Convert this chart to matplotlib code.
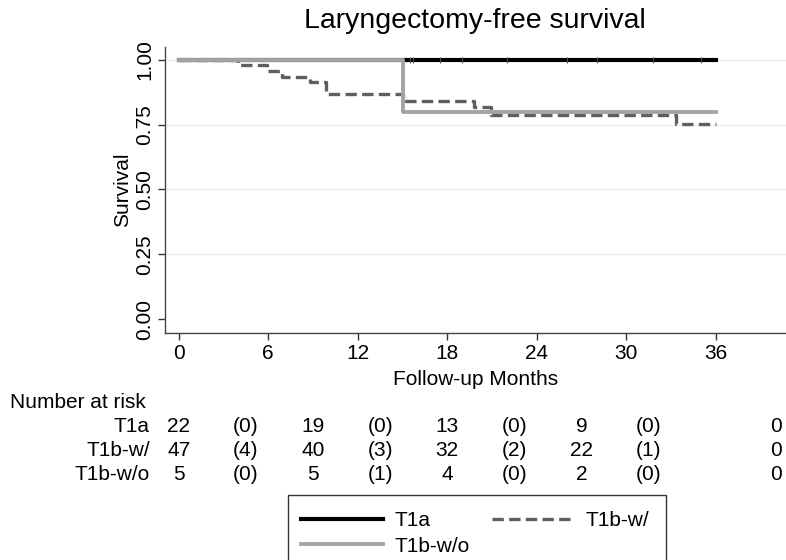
import matplotlib
matplotlib.use("Agg")
from matplotlib import pyplot as plt
from matplotlib.patches import Rectangle
import matplotlib.transforms as mtransforms

plt.rcParams['font.family'] = ['Liberation Sans', 'DejaVu Sans']

# Kaplan-Meier steps
t1a_times = [0, 36]
t1a_surv = [1.0, 1.0]
t1a_censor = [15.5, 15.7, 17.5, 19.0, 22.0, 26.0, 28.0, 31.8, 35.0]

t1bw_times = [0, 4.0, 5.9, 6.9, 8.8, 9.9, 15.0, 19.8, 20.9, 33.3, 36]
t1bw_surv = [1.0, 0.979, 0.957, 0.936, 0.915, 0.869, 0.841, 0.820, 0.788, 0.752, 0.752]

t1bwo_times = [0, 15.0, 36]
t1bwo_surv = [1.0, 0.80, 0.80]

groups = ['T1a', 'T1b-w/', 'T1b-w/o']
at_risk = [
    ['22', '(0)', '19', '(0)', '13', '(0)', '9', '(0)', '0'],
    ['47', '(4)', '40', '(3)', '32', '(2)', '22', '(1)', '0'],
    ['5', '(0)', '5', '(1)', '4', '(0)', '2', '(0)', '0'],
]
table_x = [0, 4.5, 9, 13.5, 18, 22.5, 27, 31.5, 40]

fig = plt.figure(figsize=(7.86, 5.6), dpi=100)
ax = fig.add_axes([165 / 786, 1 - 333 / 560, 1 - 165 / 786, (333 - 47) / 560])

for y in [0.25, 0.5, 0.75, 1.0]:
    ax.axhline(y, color='#e8f0f2', lw=1, zorder=0)

l1, = ax.step(t1a_times, t1a_surv, where='post', color='black', lw=3, label='T1a')
ax.plot(t1a_censor, [1.0] * len(t1a_censor), ls='none', marker='|', ms=5, mew=0.8, color='#555555')
l2, = ax.step(t1bw_times, t1bw_surv, where='post', color='#5f5f5f', lw=2.4,
              dashes=(3.4, 1.6), label='T1b-w/')
l3, = ax.step(t1bwo_times, t1bwo_surv, where='post', color='#a3a3a3', lw=2.8, label='T1b-w/o')

ax.set_xlim(-0.92, 40.7)
ax.set_ylim(-0.054, 1.05)
ax.set_xticks(range(0, 37, 6))
ax.set_yticks([0, 0.25, 0.5, 0.75, 1.0])
ax.set_yticklabels(['0.00', '0.25', '0.50', '0.75', '1.00'], rotation=90, va='center')
ax.tick_params(labelsize=15, length=5, width=1, color='#333333', pad=3)
for s in ['top', 'right']:
    ax.spines[s].set_visible(False)
for s in ['left', 'bottom']:
    ax.spines[s].set_color('#444444')
    ax.spines[s].set_linewidth(1)

ax.set_xlabel('Follow-up Months', fontsize=15, labelpad=5)
ax.set_ylabel('Survival', fontsize=15, labelpad=2)
fig.text(475 / 786, 1 - 21 / 560, 'Laryngectomy-free survival', fontsize=20.5,
         ha='center', va='center')

# number at risk table
trans = mtransforms.blended_transform_factory(ax.transData, fig.transFigure)
fig.text(10 / 786, 1 - 403 / 560, 'Number at risk', fontsize=15, ha='left', va='center')
for i, g in enumerate(groups):
    yy = 1 - (427 + 24 * i) / 560
    fig.text(150 / 786, yy, g, fontsize=15, ha='right', va='center')
    for x, v in zip(table_x, at_risk[i]):
        ax.text(x, yy, v, fontsize=15, ha='center', va='center', transform=trans, clip_on=False)

# legend box (runs off the bottom of the figure)
fig.patches.append(Rectangle((288 / 786, -0.1), (666 - 288) / 786, 0.1 + 1 - 495 / 560,
                             transform=fig.transFigure, fill=False, ec='#333333', lw=1))
fig.legend(handles=[l1, l3, l2], ncol=2, loc='upper left', frameon=False,
           bbox_to_anchor=(291 / 786, 1 - 501 / 560), fontsize=15,
           handlelength=3.9, handletextpad=0.55, columnspacing=1.1,
           labelspacing=0.3, borderpad=0)

fig.savefig('out.png', dpi=100)
